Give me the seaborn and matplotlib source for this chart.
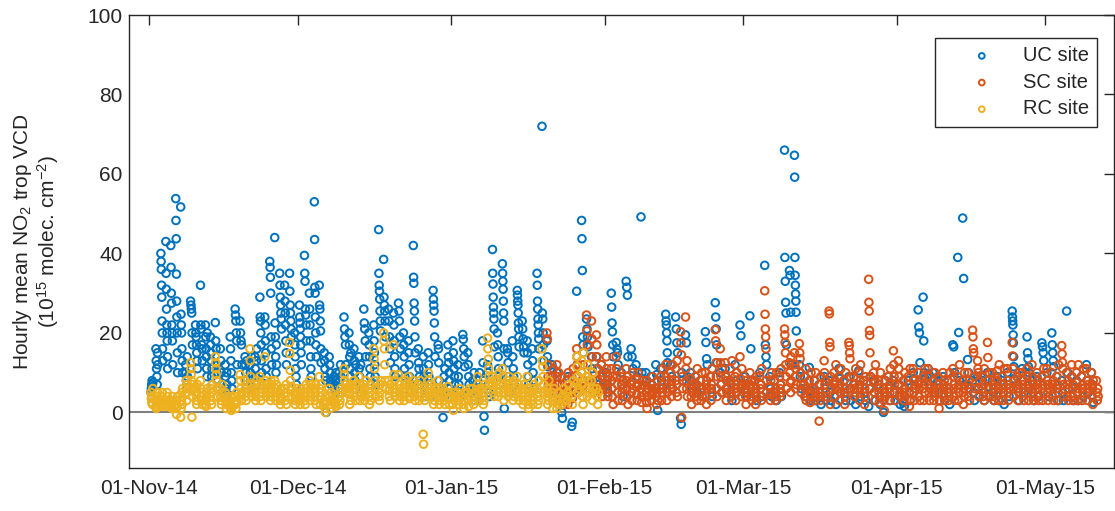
import numpy as np
import pandas as pd
import matplotlib
matplotlib.use("Agg")
import matplotlib.pyplot as plt
import matplotlib.dates as mdates
import seaborn as sns

start = pd.Timestamp("2014-11-01")
sites = ["UC site", "SC site", "RC site"]
colors = ["#0072BD", "#D95319", "#EDB120"]

# hourly values per day (day 0 = 01-Nov-14)
uc_first_day = 0
uc_val = [
    # d0-9
    [5, 6, 7, 8, 6.5, 7.5], [16, 13, 11, 9, 7, 15, 12], [40, 38, 36, 32, 29, 23, 20, 16, 13],
    [43, 35, 31, 26, 22, 20, 18, 14, 11], [42, 36.5, 30, 27.5, 22, 20, 18, 12],
    [53.8, 48.3, 43.7, 34.8, 28, 24, 20, 15, 10], [51.7, 24.7, 22, 20, 16, 13, 10],
    [12, 10, 8, 6, 14, 9], [28, 27, 26, 25, 20, 17], [22, 20, 19, 17, 15, 13, 11],
    # d10-19
    [32, 22, 21, 17, 16, 13], [22, 19, 16, 14, 11, 9, 20], [19, 17, 15, 13, 9, 11, 7],
    [22.6, 18, 16, 12, 10, 8], [16, 13, 10, 7, 5], [12, 9, 6, 5, 4, 10, 7], [19, 16, 13, 10, 8, 6],
    [26, 24.5, 23, 20, 18, 12], [23, 20, 18, 17, 12], [14, 12, 10, 8, 6, 13],
    # d20-29
    [12, 10, 8, 6, 14, 9], [14, 11, 9, 7, 13, 16], [29, 24, 23, 20, 17, 13, 10],
    [24, 22, 18, 15, 11, 9, 7], [38, 36.5, 34, 30, 19, 16, 12], [44, 22.5, 19, 14, 10, 17, 12],
    [35, 32, 29, 27, 25, 23.5, 21], [32, 28, 25, 22, 18, 15, 12], [35, 30.5, 27, 25, 23, 21, 19],
    [20, 17, 14, 11, 9, 7],
    # d30-39
    [27, 24, 22.5, 21, 19, 17, 15, 12], [39.5, 35, 33, 26, 24.5, 22, 18],
    [30, 26, 22, 18, 14, 11, 9], [53, 43.5, 31.5, 30, 24, 20, 17, 14],
    [32, 27, 26, 23, 20.5, 16, 12.5], [15, 13, 11, 9, 8, 0], [14, 12, 10, 8, 7],
    [9, 7, 6, 5, 8, 10], [10, 8, 6, 5, 12, 9], [24, 21, 19, 17, 12],
    # d40-49
    [20, 17, 14, 11, 9, 15], [16, 13, 10, 8, 6, 12], [14, 11, 9, 7, 5, 12],
    [26, 22.5, 21, 18, 14], [20, 17, 14, 11, 9, 7], [22, 18, 15, 12, 9, 7],
    [46, 35, 32, 30.5, 28.5, 25.5, 23, 20.5], [38.5, 29, 27, 25.5, 23, 19],
    [26, 23, 19, 16, 12.5], [25, 22, 18, 14, 11, 9],
    # d50-59
    [27.5, 25.5, 23, 19, 16], [20, 17, 14, 11, 9, 7], [18, 15, 12, 9, 7, 5],
    [42, 34, 32.5, 27.5, 25.5, 23, 19, 15], [16, 12.5, 11, 9, 7, 5], [14, 11, 9, 7, 5, 4],
    [15, 12, 9, 7, 5, 4], [30.7, 28.5, 27, 25.5, 22.5, 19, 14], [17, 16, 12.5, 8, 6, 4],
    [-1.3, 5, 7, 9, 4, 11],
    # d60-69
    [17, 14, 12.5, 10, 8, 6], [18, 15, 13, 11, 9, 7], [12, 9, 7, 5, 4],
    [19.6, 18.4, 16, 14, 11.5], [15, 12, 9, 7, 5], [8, 6, 4, 10, 3], [8, 6, 5, 3, 10],
    [18, 12.5, 8, -1, -4.5], [12, 10, 7, 5, 4], [41, 35, 32.3, 29, 26.5, 25, 23.5, 21, 16.5],
    # d70-79
    [20, 17, 14, 11, 9, 7], [37.4, 35, 33, 31, 28, 25, 23, 16, 1], [16, 15, 12.5, 9, 7, 5],
    [18, 14, 11, 9, 7], [30.7, 29.5, 28, 27, 25, 22.5, 21, 19, 16.5], [23, 21, 18.5, 16.5, 15],
    [18, 15, 12, 9, 7, 5], [16, 13, 10, 8, 6], [35, 32, 28, 26, 23.5, 22, 20, 18.5, 16],
    [72, 25, 23.5, 20, 17, 13],
    # d80-89
    [18, 14, 11.5, 5, 8], [12, 9, 6, 4], [10, 7, 5, 3], [0, -1.5, 4, 6], [3, 6, 9, 5],
    [-3.5, -2.5, 5, 8], [30.5, 12, 9, 6], [48.3, 43.7, 35.7, 19, 17, 15], [23.5, 21, 19, 16.5, 8],
    [14, 11, 8, 6],
    # d90-99
    [14, 11, 7], [12, 9, 6], [10, 7, 5], [30, 26.5, 22.5, 20.3, 17, 14], [17.6, 16, 15, 12],
    [10, 7, 4], [33, 31.5, 29.5, 14], [16, 14, 11], [12, 9, 7], [49.2, 10, 8],
    # d100-109
    [10, 8, 6], [9, 7, 5], [12, 9.5, 0.5], [11, 8, 6], [24.7, 23, 22, 20, 18, 15, 12.5],
    [12, 9, 6], [24, 21, 17.5, 15], [-1.5, -3, 10, 8], [19.5, 17.5, 9], [10, 8, 6],
    # d110-119
    [9, 7, 5], [8, 6, 4], [20.3, 17.6, 13.5, 12], [9, 6, 4], [27.6, 24, 21, 17, 12.5],
    [10, 7, 5], [11, 9, 6], [8, 5, 3], [12, 8, 5], [22, 19.3, 7],
    # d120-129
    [9, 6, 4], [24.3, 16, 8], [8, 5, 3], [10, 7, 4], [37, 17, 14, 12], [9, 6, 4], [8, 5, 3],
    [10, 7, 4], [66, 39, 33, 27.7, 25, 17], [35.7, 34.5, 25.2, 12],
    # d130-139
    [64.7, 59.2, 39, 34.5, 32, 29.8, 28, 25.2, 20.5], [12, 9, 6], [9, 6, 4], [11.3, 5.5, 3],
    [8, 5, 3], [7, 4, 2], [9, 6, 3], [8, 5, 3], [7, 4, 2], [11, 8.5, 5],
    # d140-149
    [8, 5, 3], [9, 6, 3], [7, 4, 2], [10.5, 7, 4], [8, 5, 3], [1.5, 6, 9], [8, 5, 3], [7, 4, 2],
    [0, 5, 8], [9, 6, 3],
    # d150-159
    [8, 5, 3], [7, 4, 2], [2.5, 1.5, 6], [8, 5, 3], [10, 8.5, 6], [25.8, 21.5, 20, 12.5],
    [29, 18, 10, 8.5], [11, 9.5, 7], [10, 8.5, 5], [8, 5, 3],
    # d160-169
    [9, 6, 3], [8, 5, 2], [17, 16.5, 10], [39, 20.1, 8], [48.9, 33.7, 7], [13.3, 10, 6],
    [8, 5, 3], [9, 6, 4], [8, 5, 3], [10, 6.5, 4],
    # d170-179
    [8, 5, 3], [9, 6, 3], [8, 5, 2], [10, 7, 4], [25.5, 24, 23, 22, 19.5, 17.5, 14, 11.5, 8.5],
    [9, 6, 3], [11, 8, 5], [19, 15, 13.5, 11.5, 10], [8, 5, 3], [9, 6, 4],
    # d180-190
    [17.5, 16.5, 15, 13], [10, 7, 4], [20, 17, 15, 13, 11.5], [9, 6, 3], [8, 5, 3],
    [25.5, 10, 6], [9, 6, 3], [8, 5, 3], [9, 6, 4], [12, 8, 5], [10, 7, 2.5],
]

sc_first_day = 80
sc_val = [
    # d80-89
    [20, 18.5, 12, 9, 7, 5], [9, 7, 5, 3, 11, 6], [12, 9, 7, 5, 3, 10], [9, 7, 5, 3.5, 2, 6],
    [8, 6, 4, 2, 10, 5], [9, 5, 3.5, 7, 11, 6], [16, 14, 12, 9, 7, 5], [10, 8, 6, 4, 12, 7],
    [24.5, 20.5, 17, 12, 9, 6], [23, 18.5, 14, 10, 7, 5],
    # d90-99
    [19.5, 17, 14, 11, 8, 6], [12, 9, 6, 4, 10, 7], [14, 11, 8, 6, 4, 9], [11, 8, 6, 4, 9, 2],
    [14, 11, 9, 7, 5, 3], [9, 7, 5, 3, 6, 8], [11, 8, 6, 4, 9, 2], [7, 5, 3, 8, 6, 10],
    [8.5, 6.5, 4.5, 3, 7, 10], [6, 4, 2.5, 5, 8, 7],
    # d100-109
    [8, 5, 2.5, 1, 6, 4], [7, 4.5, 3, 6, 9, 5], [6, 4, 2, 5, 8, 3], [9, 6, 3, 7, 5, 11],
    [12, 9, 6, 3, 8, 5], [10, 7, 4, 8, 6, 12], [11, 8, 5, 7, 13, 4], [20.3, 17.5, 14.5, -1.3, 9, 6],
    [24, 11, 8, 6, 13, 4], [8.5, 6, 4, 2, 7, 5],
    # d110-119
    [9, 6, 4, 7, 3, 11], [8, 5, 3, 6, 10, 4], [10, 7, 4, 2, 8, 6], [9, 6, 3, 7, 5, 11],
    [20.8, 18, 12.5, 9, 6, 4], [16, 12.5, 9, 7, 5, 11], [12.5, 9, 6, 3, 8, 5],
    [11, 8, 5, 7, 4, 13], [9, 6, 3, 7, 5, 10], [14, 8.5, 6, 4, 7, 11],
    # d120-129
    [8, 6, 4, 2, 7, 5], [10, 7, 4, 6, 8, 3], [8, 5, 2, 6, 4, 9], [9, 6, 4, 7, 3, 11],
    [30.6, 24.7, 21, 19, 16, 8, 5], [6.5, 4.5, 3, 8, 5, 10], [8, 5, 3, 6, 4, 10],
    [9, 6, 4, 7, 11, 5], [21, 19.5, 17.6, 15, 12, 9, 6], [12.5, 10, 7.5, 5, 14, 8],
    # d130-139
    [15, 12, 9, 6, 11, 7], [17.3, 15, 13.5, 10, 7, 5], [7, 4, 9, 6, 11, 3], [8, 5, 2.5, 6, 4, 10],
    [6, 3, 8, 5, 10, 4], [-2.2, 5, 7, 3, 9, 4], [13, 10, 7, 4, 8, 5],
    [25.5, 24.8, 17.6, 16.5, 2, 9, 6], [10, 7, 4, 8, 6, 12], [9, 6, 3, 7, 5, 11],
    # d140-149
    [8, 5, 2, 6, 4, 10], [17.6, 16.8, 15, 13.5, 9, 6], [9, 6, 4, 7, 5, 11], [10, 7, 3, 6, 8, 12],
    [8, 5, 2, 6, 4, 9], [33.5, 27.7, 25.5, 20.6, 19.4, 15, 9, 6], [10, 7.5, 5, 3, 8, 12],
    [8, 5, 2.5, 6, 4, 10], [6, 3, 0.5, 5, 8, 4], [9, 6, 3, 7, 5, 11],
    # d150-159
    [15.5, 12, 9, 7, 5, 3], [13, 11, 9, 7, 5, 4], [8, 5, 3, 6, 10, 4], [9, 7, 5, 1.5, 3, 11],
    [11, 8, 5, 3, 7, 6], [10, 7, 4, 6, 8, 3], [9, 6, 3, 7, 5, 11], [11, 9, 7, 5, 3, 6],
    [8, 5, 3, 6, 4, 10], [9, 7, 5, 1, 3, 6],
    # d160-169
    [10, 7, 4, 6, 8, 3], [8, 5, 3, 6, 4, 10], [11, 9, 6, 4, 7, 3], [9, 6, 3, 7, 5, 12],
    [8, 5, 2, 6, 4, 10], [10, 7, 4, 6, 8, 3], [20.7, 19, 16, 15, 9, 6], [13, 11, 10, 6, 4, 8],
    [9, 6, 4, 7, 3, 11], [17.6, 13.8, 8, 6, 4, 10],
    # d170-179
    [10, 7, 4, 6, 3, 8], [10.5, 8, 5, 3, 6, 12], [9, 6, 3, 7, 5, 11], [11, 8, 5, 3, 7, 6],
    [17.6, 14.2, 11, 6, 4, 8], [9, 6, 3, 7, 5, 10], [10, 7, 4, 6, 8, 3], [11, 9, 7, 5, 3, 6],
    [12, 9, 6, 4, 7, 3], [10, 7, 4, 6, 8, 3],
    # d180-191
    [9, 6, 3, 7, 5, 11], [11, 8, 5, 3, 7, 6], [10, 7, 4, 6, 8, 3], [9, 6, 3, 7, 5, 12],
    [16.8, 14.7, 12.6, 11, 7, 4], [10, 7, 4, 6, 8, 3], [12, 9, 6, 4, 7, 3],
    [10, 7.5, 5, 3, 6, 12], [9, 6, 3, 7, 5, 11], [11, 8, 5, 3, 7, 6], [10, 7, 4, 6, 2, 8],
    [8, 5, 3, 6, 4],
]

rc_first_day = 0
rc_val = [
    # d0-9
    [5, 3.5, 2.5, 4, 2, 6], [1.5, 1, 2, 4, 3, 5, 2.5], [4, 2.5, 1.5, 3, 5, 2],
    [3, 2, 1.5, 5, 4, 2.5], [3, 2, 1.5, 1, 2.5, 4], [2, 1, -0.5, 3, 1.5, 4],
    [-1.2, 1, 3, 5, 2, 6], [4.5, 6, 8, 3, 5, 7], [12.5, 11, 9.5, 8, 6, -1.2, 4, 7],
    [6, 4.5, 3, 2, 5, 7],
    # d10-19
    [8, 6, 4, 3, 5, 2], [3, 2, 1.5, 5, 4, 6], [4, 6, 3, 2, 5, 7], [14, 12.5, 11, 9.5, 8, 6, 4],
    [6, 4, 3, 2, 5, 7], [5, 3, 2, 1, 4, 2.5], [3, 2, 1, 0.5, 4, 1.5], [4, 2, 1, 3, 5, 2.5],
    [9.5, 8, 6, 4.5, 3, 5], [8, 6, 4, 3, 5, 7],
    # d20-29
    [16, 13, 9, 7, 5, 6, 4], [7, 5, 3, 4, 6, 8], [9, 6, 4, 3, 5, 7], [14, 8, 6, 4, 5, 7],
    [6, 4, 3, 8, 5, 7], [8, 6, 4, 3, 5, 7], [5, 3, 2, 4, 6, 3.5], [6, 4, 3, 5, 7, 2],
    [17.6, 14.8, 10.6, 8, 5.5, 4, 6.5], [4.5, 3, 2, 5, 3.5, 6],
    # d30-39
    [4, 3, 2, 5, 6, 3.5], [5, 3, 2, 4, 6, 7], [8, 5, 3, 6, 4, 7], [6, 4, 3, 5, 7, 2],
    [9, 6, 4, 2, 5, 7], [3, 2, 1, 0, 4, 2.5], [6, 4, 2, 1, 3, 5], [3, 2, 4, 2.5, 1.5],
    [4, 2, 3, 5, 6], [11, 9.5, 8, 6, 7, 5],
    # d40-49
    [6, 4.5, 2, 5, 7, 3], [8, 6, 4, 5, 7, 3], [9, 7, 5, 3, 6, 4], [7, 5, 3, 6, 4, 8],
    [6, 4, 2, 5, 7, 3], [16, 13.5, 11, 8, 6, 4], [6, 4, 3, 5, 7, 8], [20, 18, 16, 12, 8, 6],
    [8, 5.5, 4, 6, 7, 3], [17, 9.5, 6, 8, 4, 5],
    # d50-59
    [9.5, 7, 5, 3, 6, 4], [6, 4, 3, 5, 7, 8], [9, 7, 5, 3.5, 6, 4], [8, 6, 4, 5, 7, 3],
    [7, 5, 3, 6, 4, 8], [-5.5, -8, 4, 6, 3, 5], [10, 8, 6, 4, 5, 7], [4, 2, 6, 3, 5],
    [8, 6, 4, 2, 5, 3], [6, 4, 3, 5, 2],
    # d60-69
    [6.5, 5, 3.5, 2, 4], [2, 0.5, 4, 3, 5], [5, 3, 2, 4, 6], [4, 2, 1, 3, 5], [5, 3, 1.5, 4, 6],
    [6, 4, 2, 3, 5], [9, 7, 5.5, 3, 4, 6], [6, 4, 2, 5, 3, 7], [18.7, 16, 13.4, 11, 9, 7],
    [9, 7, 5, 6, 8, 4],
    # d70-79
    [8, 6, 4, 5, 7, 10], [11, 9, 7, 5, 3, 6], [8, 6, 4, 5, 7, 9], [7, 5, 3, 6, 4, 8],
    [9, 6, 4, 5, 7, 3], [6, 4, 2, 5, 3, 7], [9, 6, 4, 2, 1, 5], [5, 3, 2, 4, 6, 7],
    [6, 4, 2, 5, 3, 8], [16, 13, 11.5, 9, 7, 5],
    # d80-90
    [6, 4, 2, 5, 3, 8], [5, 3, 1, 4, 6], [1, 3, 2, 5], [2, 4, 3, 6], [3, 5, 4, 7], [4, 2, 6, 8],
    [14, 11.5, 7.5, 9, 5, 6], [13, 10, 7, 4, 2, 15], [9, 6, 4, 12, 8, 5], [8, 5, 3, 10, 6],
    [6, 4, 2, 5],
]


def expand(first_day, vals, site):
    rows = []
    for i, day_vals in enumerate(vals):
        n = len(day_vals)
        hours = np.linspace(8, 17, n) if n > 1 else [12.5]
        for h, v in zip(hours, day_vals):
            rows.append((start + pd.Timedelta(days=first_day + i, hours=float(h)), v, site))
    return pd.DataFrame(rows, columns=["time", "vcd", "site"])


df = pd.concat([
    expand(uc_first_day, uc_val, sites[0]),
    expand(sc_first_day, sc_val, sites[1]),
    expand(rc_first_day, rc_val, sites[2]),
])

sns.set_theme(style="white")
plt.rcParams["font.family"] = ["Liberation Sans", "DejaVu Sans"]
plt.rcParams["mathtext.fontset"] = "custom"
plt.rcParams["mathtext.rm"] = "Liberation Sans"
plt.rcParams["mathtext.it"] = "Liberation Sans:italic"

fig = plt.figure(figsize=(11.15, 5.11), dpi=100)
ax = fig.add_axes([0.116, 0.0841, 0.8831, 0.8865])

ax.axhline(0, color="#7f7f7f", lw=1.5, zorder=1)
for site, c in zip(sites, colors):
    sns.scatterplot(data=df[df["site"] == site], x="time", y="vcd", ax=ax, color=c,
                    facecolor="none", edgecolor=c, linewidth=1.4, s=30, label=site, zorder=2)

ax.set_xlim(start - pd.Timedelta(days=4.04), start + pd.Timedelta(days=194.9))
ax.set_ylim(-14, 100)
ax.set_yticks([0, 20, 40, 60, 80, 100])
ax.xaxis.set_major_locator(mdates.MonthLocator(bymonthday=1))
ax.xaxis.set_major_formatter(mdates.DateFormatter("%d-%b-%y"))

ax.set_xlabel("")
ax.set_ylabel("Hourly mean NO$_2$ trop VCD\n(10$^{15}$ molec. cm$^{-2}$)",
              fontsize=15, color="#262626", labelpad=19, linespacing=1.05)
ax.tick_params(direction="in", length=7, width=1, top=True, right=True,
               labelsize=15, color="#262626", labelcolor="#262626")
ax.tick_params(axis="x", pad=8)
ax.tick_params(axis="y", pad=5)
for sp in ax.spines.values():
    sp.set_visible(True)
    sp.set_color("#262626")
    sp.set_linewidth(1.0)

leg = ax.legend(loc="upper right", bbox_to_anchor=(0.983, 0.949), fontsize=14.5,
                frameon=True, fancybox=False, edgecolor="#262626", framealpha=1,
                handlelength=3.8, handletextpad=0.15, borderpad=0.4, labelspacing=0.38,
                markerscale=0.75, borderaxespad=0)
leg.get_frame().set_linewidth(1.0)
for t in leg.get_texts():
    t.set_color("#262626")

fig.savefig("out.png", dpi=100)
